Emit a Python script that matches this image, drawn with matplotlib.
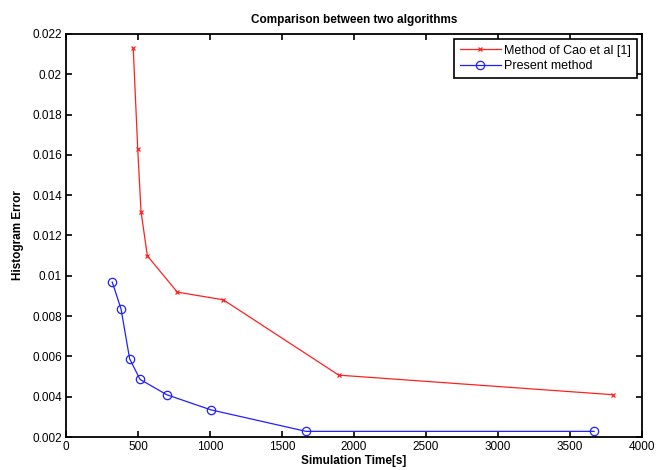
import matplotlib
matplotlib.use("Agg")
import matplotlib.pyplot as plt
from matplotlib.ticker import FuncFormatter

plt.rcParams['font.family'] = ['Liberation Sans', 'DejaVu Sans']

# Method of Cao et al [1]
cao_time = [467, 498, 521, 565, 773, 1092, 1894, 3796]
cao_error = [0.02129, 0.0163, 0.01319, 0.01099, 0.00919, 0.00881, 0.00507, 0.0041]

# Present method
present_time = [321, 382, 442, 514, 699, 1005, 1667, 3667]
present_error = [0.00969, 0.00836, 0.00588, 0.00486, 0.0041, 0.00335, 0.00228, 0.00228]

x_ticks = [0, 500, 1000, 1500, 2000, 2500, 3000, 3500, 4000]
y_ticks = [0.002, 0.004, 0.006, 0.008, 0.01, 0.012, 0.014, 0.016, 0.018, 0.02, 0.022]

fig = plt.figure(figsize=(6.57, 4.70), dpi=100)
ax = fig.add_axes([66 / 657, 1 - 437 / 470, 576 / 657, 403 / 470])

ax.plot(cao_time, cao_error, color='#ff2020', lw=0.9, marker='x',
        markersize=3.5, markeredgewidth=0.9, label='Method of Cao et al [1]')
ax.plot(present_time, present_error, color='#2020ff', lw=0.9, marker='o',
        markersize=6, markerfacecolor='none', markeredgewidth=0.9,
        label='Present method')

ax.set_xlim(0, 4000)
ax.set_ylim(0.002, 0.022)
ax.set_xticks(x_ticks)
ax.set_yticks(y_ticks)
ax.yaxis.set_major_formatter(FuncFormatter(lambda v, p: '%g' % round(v, 4)))
ax.tick_params(direction='in', length=4, width=1.2, top=True, right=True,
               labelsize=8.5, colors='black', pad=3)
for s in ax.spines.values():
    s.set_linewidth(1.3)

ax.set_title('Comparison between two algorithms', fontsize=8.5,
             fontweight='bold', pad=8)
ax.set_xlabel('Simulation Time[s]', fontsize=8.5, fontweight='bold', labelpad=1)
ax.set_ylabel('Histogram Error', fontsize=8.5, fontweight='bold', labelpad=6)

leg = ax.legend(loc='upper right', fontsize=9, fancybox=False,
                framealpha=1, edgecolor='black', borderaxespad=0.4,
                handlelength=3.3, handletextpad=0.3, borderpad=0.45,
                labelspacing=0.3)
leg.get_frame().set_linewidth(1.2)

fig.savefig('out.png', dpi=100)
